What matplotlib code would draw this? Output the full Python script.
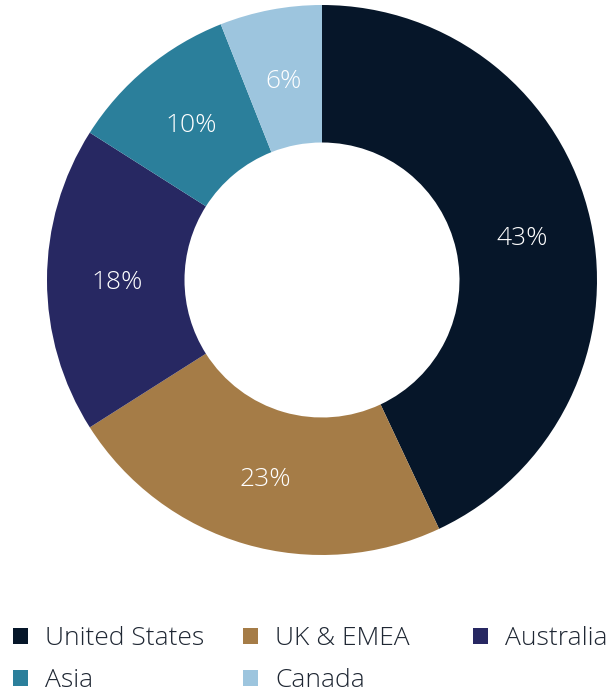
import matplotlib
matplotlib.use("Agg")
import matplotlib.pyplot as plt
from matplotlib.patches import Patch
from matplotlib.transforms import ScaledTranslation

categories = ["United States", "UK & EMEA", "Australia", "Asia", "Canada"]
values = [43, 23, 18, 10, 6]
labels = ["43%", "23%", "18%", "10%", "6%"]
colors = ["#061629", "#A57C47", "#272862", "#2B7F9B", "#9DC5DE"]

plt.rcParams['font.family'] = ['Open Sans', 'DejaVu Sans']

W, H = 610, 690
fig = plt.figure(figsize=(W / 100, H / 100), dpi=100)
cx, cy, r = 322, 280, 275
ax = fig.add_axes([(cx - r) / W, (H - cy - r) / H, 2 * r / W, 2 * r / H])

wedges, texts = ax.pie(values, colors=colors, startangle=90, counterclock=False,
                       radius=1.0, labels=labels, labeldistance=0.745,
                       wedgeprops=dict(width=0.5, linewidth=0),
                       textprops=dict(color="white", fontsize=19, fontweight="light",
                                      ha="center", va="center"))
off = ScaledTranslation(0, -3 / 100, fig.dpi_scale_trans)
for t in texts:
    t.set_transform(ax.transData + off)
ax.set_xlim(-1, 1)
ax.set_ylim(-1, 1)
ax.set_aspect("equal")
ax.axis("off")

fs = 19
columns = [([0, 3], 13), ([1, 4], 243), ([2], 473)]
for idxs, xpx in columns:
    handles = [Patch(facecolor=colors[i], edgecolor="none") for i in idxs]
    fig.legend(handles, [categories[i] for i in idxs], loc="upper left",
               bbox_to_anchor=(xpx / W, 1 - 626 / H), frameon=False,
               prop=dict(weight="light", size=fs),
               handlelength=0.57, handleheight=0.57, handletextpad=0.64,
               borderpad=0, borderaxespad=0, labelspacing=0.65,
               labelcolor="#1f2733")

fig.savefig("out.png", dpi=100)
